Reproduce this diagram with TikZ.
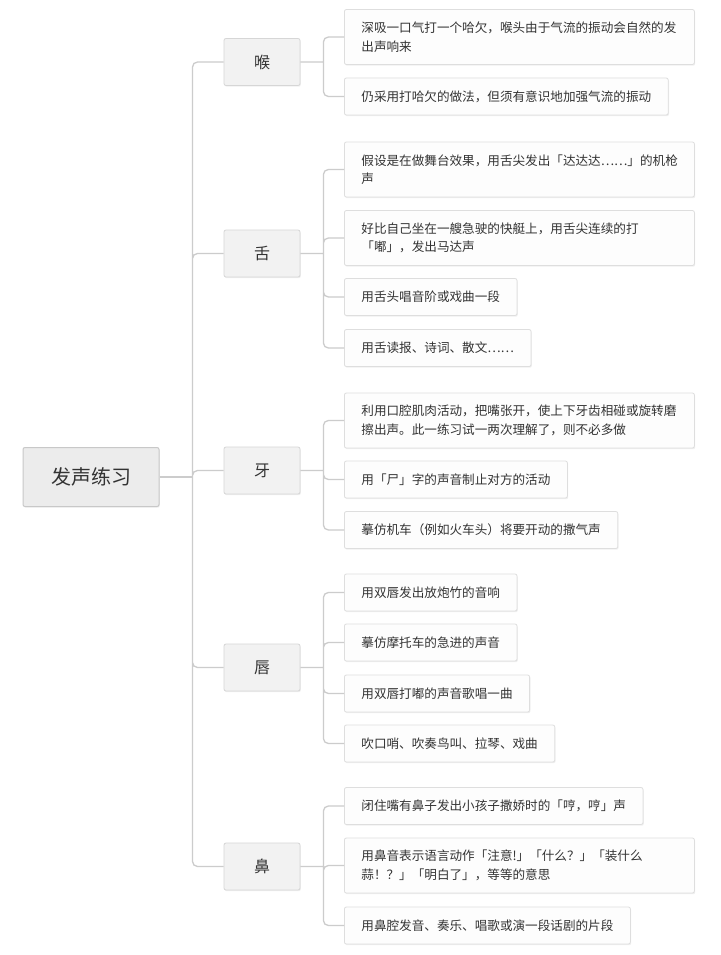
\documentclass[tikz,border=0pt]{standalone}
\usepackage{fontspec}
\setmainfont{Noto Sans CJK SC}
\usetikzlibrary{shadows}
\definecolor{T}{RGB}{51, 51, 51}
\definecolor{RF}{RGB}{236, 236, 236}
\definecolor{RB}{RGB}{200, 200, 200}
\definecolor{BF}{RGB}{242, 242, 242}
\definecolor{BB}{RGB}{214, 214, 214}
\definecolor{HF}{RGB}{253, 253, 253}
\definecolor{HB}{RGB}{222, 222, 222}
\definecolor{C}{RGB}{204, 204, 204}

\begin{document}
\begin{tikzpicture}[x=1pt, y=-1pt,
  sombra/.style={drop shadow={shadow xshift=0.8pt, shadow yshift=-1.2pt, opacity=0.12}},
  raiz/.style={draw=RB, fill=RF, rounded corners=2pt, line width=1pt, sombra,
    minimum width=136pt, minimum height=59pt, text=T, font=\fontsize{20pt}{24pt}\selectfont},
  rama/.style={draw=BB, fill=BF, rounded corners=2pt, line width=0.8pt, sombra,
    minimum width=76pt, minimum height=47pt, text=T, font=\fontsize{16pt}{19pt}\selectfont},
  hoja/.style={anchor=west, draw=HB, fill=HF, rounded corners=2pt, line width=0.8pt, sombra,
    inner xsep=17pt, inner ysep=4pt, minimum height=37pt, align=left, text=T,
    font=\fontsize{12.6pt}{18.5pt}\selectfont},
  hojalarga/.style={hoja, text width=316pt, minimum height=55pt},
  enlace/.style={draw=C, line width=1.3pt, rounded corners=5pt}]

  %# FONDO
  \fill[white] (0,0) rectangle (720,955);
  \useasboundingbox (0,0) rectangle (720,955);

  %# NODO RAIZ
  \node[raiz] (fasheng) at (91,477) {发声练习};

  %# RAMAS
  \node[rama] (hou)  at (262,62)    {喉};
  \node[rama] (she)  at (262,253.5) {舌};
  \node[rama] (ya)   at (262,470.5) {牙};
  \node[rama] (chun) at (262,667.5) {唇};
  \node[rama] (bi)   at (262,866.5) {鼻};

  %# HOJAS DE HOU
  \node[hojalarga] (hou1) at (344,37)   {深吸一口气打一个哈欠，喉头由于气流的振动会自然的发\\出声响来};
  \node[hoja]      (hou2) at (344,96.5) {仍采用打哈欠的做法，但须有意识地加强气流的振动};

  %# HOJAS DE SHE
  \node[hojalarga] (she1) at (344,169.5) {假设是在做舞台效果，用舌尖发出「达达达……」的机枪\\声};
  \node[hojalarga] (she2) at (344,238)   {好比自己坐在一艘急驶的快艇上，用舌尖连续的打\\「嘟」，发出马达声};
  \node[hoja]      (she3) at (344,297)   {用舌头唱音阶或戏曲一段};
  \node[hoja]      (she4) at (344,348)   {用舌读报、诗词、散文……};

  %# HOJAS DE YA
  \node[hojalarga] (ya1) at (344,420.5) {利用口腔肌肉活动，把嘴张开，使上下牙齿相碰或旋转磨\\擦出声。此一练习试一两次理解了，则不必多做};
  \node[hoja]      (ya2) at (344,479.5) {用「尸」字的声音制止对方的活动};
  \node[hoja]      (ya3) at (344,530)   {摹仿机车（例如火车头）将要开动的撒气声};

  %# HOJAS DE CHUN
  \node[hoja] (chun1) at (344,592.5) {用双唇发出放炮竹的音响};
  \node[hoja] (chun2) at (344,642.5) {摹仿摩托车的急进的声音};
  \node[hoja] (chun3) at (344,693.5) {用双唇打嘟的声音歌唱一曲};
  \node[hoja] (chun4) at (344,743.5) {吹口哨、吹奏鸟叫、拉琴、戏曲};

  %# HOJAS DE BI
  \node[hoja]      (bi1) at (344,806)   {闭住嘴有鼻子发出小孩子撒娇时的「哼，哼」声};
  \node[hojalarga] (bi2) at (344,865.5) {用鼻音表示语言动作「注意!」「什么？」「装什么\\蒜！？」「明白了」，等等的意思};
  \node[hoja]      (bi3) at (344,925.5) {用鼻腔发音、奏乐、唱歌或演一段话剧的片段};

  %# PUNTOS DE BIFURCACION
  \coordinate (fork0)    at ([xshift=33pt]fasheng.east);
  \coordinate (forkhou)  at ([xshift=23pt]hou.east);
  \coordinate (forkshe)  at ([xshift=23pt]she.east);
  \coordinate (forkya)   at ([xshift=23pt]ya.east);
  \coordinate (forkchun) at ([xshift=23pt]chun.east);
  \coordinate (forkbi)   at ([xshift=23pt]bi.east);

  %# ENLACES
  \draw[enlace] (fasheng.east) -- (fork0);
  \draw[enlace] (fork0) |- (hou.west) (fork0) |- (she.west) (fork0) |- (ya.west)
    (fork0) |- (chun.west) (fork0) |- (bi.west);
  \draw[enlace] (hou.east) -- (forkhou) (forkhou) |- (hou1.west) (forkhou) |- (hou2.west);
  \draw[enlace] (she.east) -- (forkshe) (forkshe) |- (she1.west) (forkshe) |- (she2.west)
    (forkshe) |- (she3.west) (forkshe) |- (she4.west);
  \draw[enlace] (ya.east) -- (forkya) (forkya) |- (ya1.west) (forkya) |- (ya2.west)
    (forkya) |- (ya3.west);
  \draw[enlace] (chun.east) -- (forkchun) (forkchun) |- (chun1.west) (forkchun) |- (chun2.west)
    (forkchun) |- (chun3.west) (forkchun) |- (chun4.west);
  \draw[enlace] (bi.east) -- (forkbi) (forkbi) |- (bi1.west) (forkbi) |- (bi2.west)
    (forkbi) |- (bi3.west);
\end{tikzpicture}
\end{document}
